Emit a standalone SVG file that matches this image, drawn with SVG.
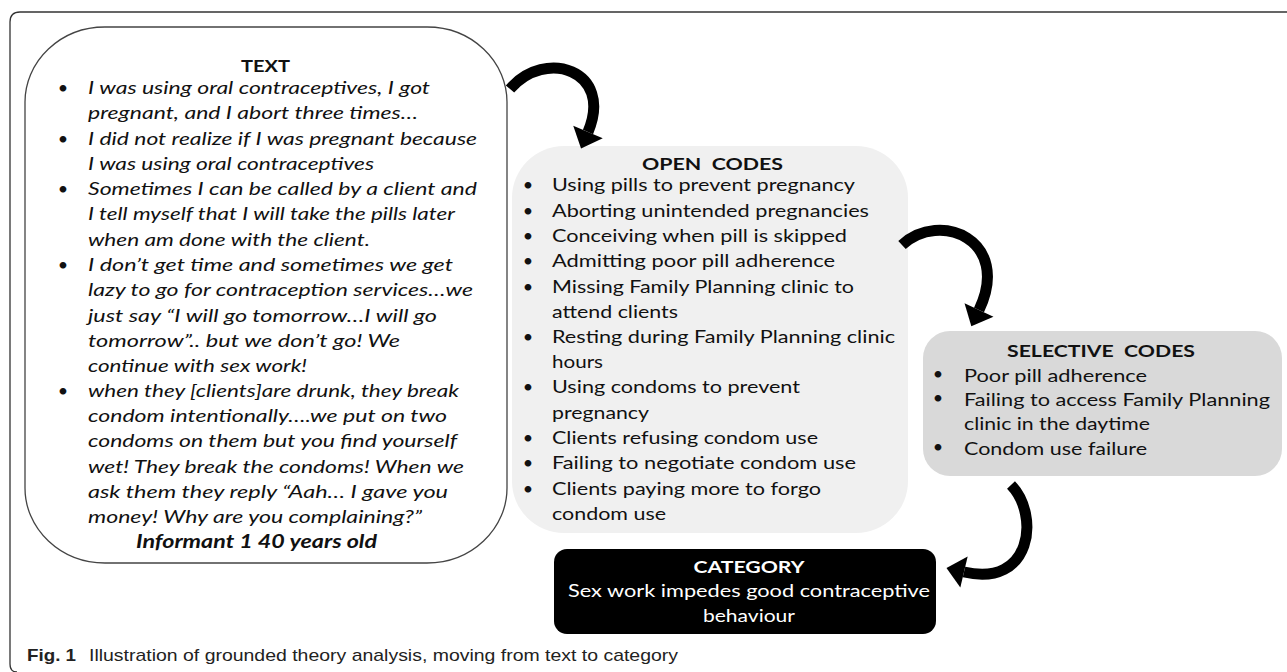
<svg xmlns="http://www.w3.org/2000/svg" width="1287" height="672" viewBox="0 0 1287 672">
<style>
  .t { font-family: "Lato", "Liberation Sans", sans-serif; font-size: 18px; fill: #111; }
  .it { font-style: italic; }
  .hd { font-weight: 700; text-anchor: middle; font-size: 17px; }
  .bul { text-anchor: middle; }
  .w { fill: #fff; }
  .cap { font-family: "Liberation Sans", "Noto Sans", sans-serif; font-size: 17px; fill: #222; }
  .arrow { fill: none; stroke: #000; stroke-width: 11; stroke-linecap: butt; marker-end: url(#ah); }
</style>
<defs>
  <marker id="ah" markerUnits="userSpaceOnUse" markerWidth="40" markerHeight="40" viewBox="-2 -20 40 40" refX="0" refY="0" orient="auto">
    <path d="M0,-16 L18,0 L0,16 Z" fill="#000"/>
  </marker>
</defs>
<rect x="0" y="0" width="1287" height="672" fill="#fff"/>
<path id="frame" d="M1287 12 H20 Q10 12 10 22 V664 Q10 672 17 672" fill="none" stroke="#333" stroke-width="1.3"/>

<g id="node-text">
  <rect x="25" y="27" width="482" height="536" rx="80" ry="75" fill="#fff" stroke="#444" stroke-width="1.3"/>
  <text class="t hd" x="265.5" y="72" textLength="49" lengthAdjust="spacingAndGlyphs">TEXT</text>
  <text class="t bul" x="63" y="94">•</text>
  <text class="t bul" x="63" y="145">•</text>
  <text class="t bul" x="63" y="195">•</text>
  <text class="t bul" x="63" y="271">•</text>
  <text class="t bul" x="63" y="397">•</text>
  <g class="t it">
    <text x="88" y="94" textLength="342" lengthAdjust="spacingAndGlyphs">I was using oral contraceptives, I got</text>
    <text x="88" y="119" textLength="330" lengthAdjust="spacingAndGlyphs">pregnant, and I abort three times…</text>
    <text x="88" y="145" textLength="389" lengthAdjust="spacingAndGlyphs">I did not realize if I was pregnant because</text>
    <text x="88" y="170" textLength="286" lengthAdjust="spacingAndGlyphs">I was using oral contraceptives</text>
    <text x="88" y="195" textLength="389" lengthAdjust="spacingAndGlyphs">Sometimes I can be called by a client and</text>
    <text x="88" y="220" textLength="367" lengthAdjust="spacingAndGlyphs">I tell myself that I will take the pills later</text>
    <text x="88" y="246" textLength="282" lengthAdjust="spacingAndGlyphs">when am done with the client.</text>
    <text x="88" y="271" textLength="365" lengthAdjust="spacingAndGlyphs">I don’t get time and sometimes we get</text>
    <text x="88" y="296" textLength="385" lengthAdjust="spacingAndGlyphs">lazy to go for contraception services…we</text>
    <text x="88" y="322" textLength="349" lengthAdjust="spacingAndGlyphs">just say “I will go tomorrow…I will go</text>
    <text x="88" y="347" textLength="312" lengthAdjust="spacingAndGlyphs">tomorrow”.. but we don’t go! We</text>
    <text x="88" y="372" textLength="219" lengthAdjust="spacingAndGlyphs">continue with sex work!</text>
    <text x="88" y="397" textLength="371" lengthAdjust="spacingAndGlyphs">when they [clients]are drunk, they break</text>
    <text x="88" y="422" textLength="359" lengthAdjust="spacingAndGlyphs">condom intentionally….we put on two</text>
    <text x="88" y="447" textLength="369" lengthAdjust="spacingAndGlyphs">condoms on them but you find yourself</text>
    <text x="88" y="473" textLength="376" lengthAdjust="spacingAndGlyphs">wet! They break the condoms! When we</text>
    <text x="88" y="498" textLength="360" lengthAdjust="spacingAndGlyphs">ask them they reply “Aah… I gave you</text>
    <text x="88" y="523" textLength="334" lengthAdjust="spacingAndGlyphs">money! Why are you complaining?”</text>
  </g>
  <text class="t it" x="136" y="548" font-weight="700" textLength="241" lengthAdjust="spacingAndGlyphs">Informant 1 40 years old</text>
</g>

<g id="node-open">
  <rect x="512" y="146" width="396" height="387" rx="52" ry="52" fill="#f0f0f0"/>
  <text class="t hd" x="712.5" y="170" textLength="141" lengthAdjust="spacingAndGlyphs" xml:space="preserve">OPEN  CODES</text>
  <g class="t bul">
    <text x="528" y="191">•</text>
    <text x="528" y="217">•</text>
    <text x="528" y="242">•</text>
    <text x="528" y="267">•</text>
    <text x="528" y="293">•</text>
    <text x="528" y="343">•</text>
    <text x="528" y="393">•</text>
    <text x="528" y="444">•</text>
    <text x="528" y="469">•</text>
    <text x="528" y="495">•</text>
  </g>
  <g class="t">
    <text x="552" y="191" textLength="303" lengthAdjust="spacingAndGlyphs">Using pills to prevent pregnancy</text>
    <text x="552" y="217" textLength="317" lengthAdjust="spacingAndGlyphs">Aborting unintended pregnancies</text>
    <text x="552" y="242" textLength="295" lengthAdjust="spacingAndGlyphs">Conceiving when pill is skipped</text>
    <text x="552" y="267" textLength="283" lengthAdjust="spacingAndGlyphs">Admitting poor pill adherence</text>
    <text x="552" y="293" textLength="302" lengthAdjust="spacingAndGlyphs">Missing Family Planning clinic to</text>
    <text x="552" y="318" textLength="126" lengthAdjust="spacingAndGlyphs">attend clients</text>
    <text x="552" y="343" textLength="343" lengthAdjust="spacingAndGlyphs">Resting during Family Planning clinic</text>
    <text x="552" y="368" textLength="51" lengthAdjust="spacingAndGlyphs">hours</text>
    <text x="552" y="393" textLength="248" lengthAdjust="spacingAndGlyphs">Using condoms to prevent</text>
    <text x="552" y="419" textLength="97" lengthAdjust="spacingAndGlyphs">pregnancy</text>
    <text x="552" y="444" textLength="266" lengthAdjust="spacingAndGlyphs">Clients refusing condom use</text>
    <text x="552" y="469" textLength="304" lengthAdjust="spacingAndGlyphs">Failing to negotiate condom use</text>
    <text x="552" y="495" textLength="269" lengthAdjust="spacingAndGlyphs">Clients paying more to forgo</text>
    <text x="552" y="520" textLength="114" lengthAdjust="spacingAndGlyphs">condom use</text>
  </g>
</g>

<g id="node-selective">
  <rect x="923" y="331" width="359" height="145" rx="27" ry="27" fill="#d9d9d9"/>
  <text class="t hd" x="1101" y="357" textLength="188" lengthAdjust="spacingAndGlyphs" xml:space="preserve">SELECTIVE  CODES</text>
  <g class="t bul" font-size="14">
    <text x="938" y="380">•</text>
    <text x="938" y="404">•</text>
    <text x="938" y="453">•</text>
  </g>
  <g class="t">
    <text x="964" y="382" textLength="183" lengthAdjust="spacingAndGlyphs">Poor pill adherence</text>
    <text x="964" y="406" textLength="306" lengthAdjust="spacingAndGlyphs">Failing to access Family Planning</text>
    <text x="964" y="430" textLength="186" lengthAdjust="spacingAndGlyphs">clinic in the daytime</text>
    <text x="964" y="455" textLength="183" lengthAdjust="spacingAndGlyphs">Condom use failure</text>
  </g>
</g>

<g id="node-category">
  <rect x="554" y="549" width="382" height="85" rx="13" ry="13" fill="#000"/>
  <text class="t hd w" x="749" y="573" textLength="111" lengthAdjust="spacingAndGlyphs">CATEGORY</text>
  <text class="t w" x="568" y="597" textLength="362" lengthAdjust="spacingAndGlyphs">Sex work impedes good contraceptive</text>
  <text class="t w" x="703" y="622" textLength="92" lengthAdjust="spacingAndGlyphs">behaviour</text>
</g>

<g id="connectors">
  <path class="arrow" d="M510 89 C545 48, 614 70, 588 132"/>
  <path class="arrow" d="M902 245 C940 210, 1012 240, 979 310"/>
  <path class="arrow" d="M1011 485 C1040 515, 1032 588, 964 572"/>
</g>

<g id="caption">
  <text class="cap" x="27" y="661" font-weight="700" textLength="49" lengthAdjust="spacingAndGlyphs">Fig. 1</text>
  <text class="cap" x="89" y="661" textLength="589" lengthAdjust="spacingAndGlyphs">Illustration of grounded theory analysis, moving from text to category</text>
</g>
</svg>
